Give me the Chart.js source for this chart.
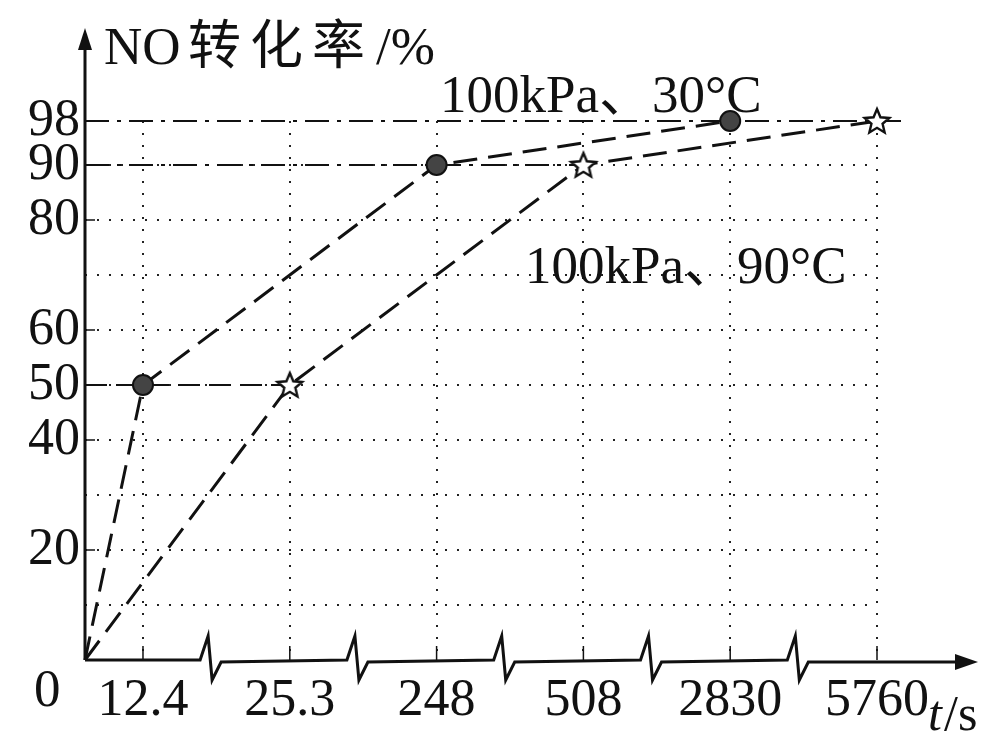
<!DOCTYPE html>
<html>
<head>
<meta charset="utf-8">
<script src="https://cdn.jsdelivr.net/npm/chart.js@4.4.0/dist/chart.umd.min.js"></script>
<style>
  html, body { margin: 0; padding: 0; background: #fff; }
  #wrap { width: 1006px; height: 735px; }
</style>
</head>
<body>
<div id="wrap"><canvas id="graf" width="1006" height="735"></canvas></div>
<script>
// eixo t quebrado: cada rótulo ocupa uma posição fixa
const tempos = ['12.4', '25.3', '248', '508', '2830', '5760'];
const rotulosY = [20, 40, 50, 60, 80, 90, 98];
const gradeY = [10, 20, 30, 40, 50, 60, 70, 80, 90, 98];

// 100kPa、30°C
const tempos30 = ['0', '12.4', '248', '2830'];
const conv30 = [0, 50, 90, 98];

// 100kPa、90°C
const tempos90 = ['0', '25.3', '508', '5760'];
const conv90 = [0, 50, 90, 98];

// linhas de referência (valor, até qual tempo)
const refValores = [98, 90, 50];
const refAte = ['5760', '508', '25.3'];

const ORIGEM = -0.395;   // posição do 0 no eixo quebrado
const FONTE = "'Liberation Serif', 'Noto Sans CJK SC', serif";
const COR = '#111';

function pos(t) {
  return t === '0' ? ORIGEM : tempos.indexOf(t);
}

function estrela(r) {
  const c = document.createElement('canvas');
  const s = Math.ceil(r * 2 + 6);
  c.width = s; c.height = s;
  const g = c.getContext('2d');
  g.translate(s / 2, s / 2 + 1);
  g.beginPath();
  for (let i = 0; i < 10; i++) {
    const rr = i % 2 === 0 ? r : r * 0.45;
    const a = -Math.PI / 2 + i * Math.PI / 5;
    g.lineTo(rr * Math.cos(a), rr * Math.sin(a));
  }
  g.closePath();
  g.fillStyle = '#fff';
  g.fill();
  g.lineWidth = 2.4;
  g.strokeStyle = COR;
  g.stroke();
  return c;
}

// Plugin: eixos com setas, quebras, títulos e anotações
const eixosPlugin = {
  id: 'eixos',
  afterDraw(chart) {
    const { ctx, scales: { x, y } } = chart;
    const x0 = x.getPixelForValue(ORIGEM);
    const y0 = y.getPixelForValue(0);

    ctx.save();
    ctx.strokeStyle = COR;
    ctx.fillStyle = COR;
    ctx.lineWidth = 3;
    ctx.lineJoin = 'miter';

    // eixo y
    ctx.beginPath();
    ctx.moveTo(x0, y0);
    ctx.lineTo(x0, 40);
    ctx.stroke();
    ctx.beginPath();
    ctx.moveTo(x0, 28);
    ctx.lineTo(x0 - 7, 50);
    ctx.lineTo(x0 + 7, 50);
    ctx.closePath();
    ctx.fill();

    // eixo x com quebras
    ctx.beginPath();
    ctx.moveTo(x0, y0);
    for (let i = 0; i < tempos.length - 1; i++) {
      const xq = x.getPixelForValue(i + 0.43);
      ctx.lineTo(xq - 6, y0);
      ctx.lineTo(xq + 2, y0 - 24);
      ctx.lineTo(xq + 6, y0 + 20);
      ctx.lineTo(xq + 15, y0 + 2);
    }
    ctx.lineTo(960, y0 + 2);
    ctx.stroke();
    ctx.beginPath();
    ctx.moveTo(978, y0 + 2);
    ctx.lineTo(955, y0 - 6);
    ctx.lineTo(955, y0 + 10);
    ctx.closePath();
    ctx.fill();

    // marcas para dentro
    ctx.lineWidth = 1.5;
    tempos.forEach((_, i) => {
      const px = x.getPixelForValue(i);
      ctx.beginPath();
      ctx.moveTo(px, y0);
      ctx.lineTo(px, y0 - 14);
      ctx.stroke();
    });
    rotulosY.forEach((v) => {
      const py = y.getPixelForValue(v);
      ctx.beginPath();
      ctx.moveTo(x0, py);
      ctx.lineTo(x0 + 10, py);
      ctx.stroke();
    });

    // textos
    ctx.textBaseline = 'alphabetic';
    ctx.textAlign = 'left';
    ctx.font = '53px ' + FONTE;
    ctx.fillText('NO', 104, 64);
    ctx.letterSpacing = '9px';
    ctx.fillText('转化率', 188, 64);
    ctx.letterSpacing = '0px';
    ctx.fillText('/%', 376, 64);

    ctx.fillText('100kPa、30°C', 440, 112);
    ctx.fillText('100kPa、90°C', 525, 283);

    ctx.fillText('0', 34, 706);

    ctx.font = 'italic 50px ' + FONTE;
    ctx.fillText('t', 928, 730);
    ctx.font = '50px ' + FONTE;
    ctx.fillText('/s', 944, 730);

    ctx.restore();
  }
};

Chart.register(eixosPlugin);

const serie30 = tempos30.map((t, i) => ({ x: pos(t), y: conv30[i] }));
const serie90 = tempos90.map((t, i) => ({ x: pos(t), y: conv90[i] }));

const refs = refValores.map((v, i) => {
  const fim = pos(refAte[i]) + (v === 98 ? 0.18 : 0);
  return {
    data: [{ x: ORIGEM, y: v }, { x: fim, y: v }],
    borderColor: COR,
    borderWidth: 2,
    borderDash: v === 50 ? [22, 9] : [24, 8, 4, 8],
    pointRadius: 0,
    clip: false,
    order: 2
  };
});

new Chart(document.getElementById('graf'), {
  type: 'line',
  data: {
    datasets: [
      {
        label: '100kPa、30°C',
        data: serie30,
        borderColor: COR,
        borderWidth: 3,
        borderDash: [24, 11],
        pointStyle: 'circle',
        pointRadius: [0, 10, 10, 10],
        pointBackgroundColor: '#444',
        pointBorderColor: COR,
        pointBorderWidth: 2,
        clip: false,
        order: 0
      },
      {
        label: '100kPa、90°C',
        data: serie90,
        borderColor: COR,
        borderWidth: 3,
        borderDash: [24, 11],
        pointStyle: estrela(13),
        pointRadius: [0, 10, 10, 10],
        clip: false,
        order: 1
      },
      ...refs
    ]
  },
  options: {
    responsive: false,
    animation: false,
    layout: { padding: { top: 121, right: 129, left: 0, bottom: 0 } },
    plugins: {
      legend: { display: false },
      tooltip: { enabled: false }
    },
    scales: {
      x: {
        type: 'linear',
        min: ORIGEM,
        max: tempos.length - 1,
        afterBuildTicks(scale) {
          scale.ticks = tempos.map((_, i) => ({ value: i }));
        },
        afterFit(scale) { scale.height = 75; },
        border: { display: false, dash: [2, 10] },
        grid: { color: '#222', lineWidth: 2, drawTicks: false },
        ticks: {
          color: COR,
          padding: 10,
          maxRotation: 0,
          autoSkip: false,
          font: { family: FONTE, size: 52 },
          callback: (v) => tempos[v]
        }
      },
      y: {
        min: 0,
        max: 98,
        afterBuildTicks(scale) {
          scale.ticks = gradeY.map((v) => ({ value: v }));
        },
        afterFit(scale) { scale.width = 85; },
        border: { display: false, dash: [2, 10] },
        grid: {
          color: (c) => (c.tick && c.tick.value === 98 ? 'rgba(0,0,0,0)' : '#222'),
          lineWidth: 2,
          drawTicks: false
        },
        ticks: {
          color: COR,
          padding: 5,
          autoSkip: false,
          font: { family: FONTE, size: 52 },
          callback: (v) => (rotulosY.includes(v) ? v : '')
        }
      }
    }
  }
});
</script>
</body>
</html>
